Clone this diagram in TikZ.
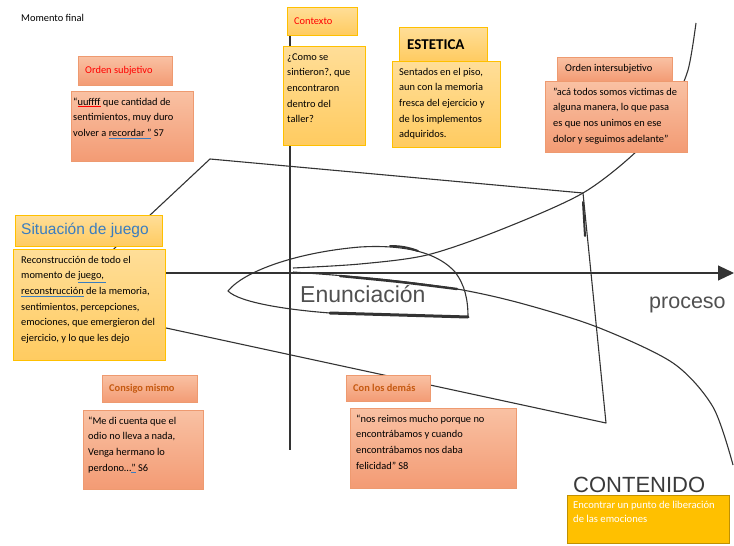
\documentclass[tikz,border=0pt]{standalone}
\usepackage{fontspec}
\setmainfont{Carlito}
\newfontfamily\arialfont{Liberation Sans}
\usetikzlibrary{arrows.meta}

% Colores
\definecolor{trazo}{HTML}{333333}
\definecolor{salmonclaro}{HTML}{F9C1A3}
\definecolor{salmonoscuro}{HTML}{F39B74}
\definecolor{bordesalmon}{HTML}{EE9A70}
\definecolor{amarilloclaro}{HTML}{FFDE98}
\definecolor{amarillooscuro}{HTML}{FFCB60}
\definecolor{bordeamarillo}{HTML}{FFC000}
\definecolor{dorado}{HTML}{FFC000}
\definecolor{bordedorado}{HTML}{C09000}
\definecolor{rojo}{HTML}{FF0000}
\definecolor{naranja}{HTML}{C55A11}
\definecolor{azul}{HTML}{3A7DC0}
\definecolor{gris}{HTML}{505050}
\definecolor{grisoscuro}{HTML}{3A3A3A}

% Texto de las cajas
\newcommand{\cuerpo}{\fontsize{10.4}{15.7}\selectfont}
\newcommand{\caja}[4]{\parbox[c][#2pt][t]{#1pt}{\vspace*{3pt}\hspace*{#3pt}\begin{tabular}[t]{@{}l@{}}#4\end{tabular}}}
\newcommand{\titulo}[3]{\makebox[#1pt][l]{\hspace*{#2pt}#3}}
\newcommand{\subrayar}[2]{\textcolor{#1}{\underline{\textcolor{black}{#2}}}}

\begin{document}
\begin{tikzpicture}[x=1pt, y=-1pt,
    linea/.style={draw=trazo, line width=1.1pt, line join=round},
    grueso/.style={draw=trazo, line width=2.6pt, line cap=round},
    salmon/.style={draw=bordesalmon, top color=salmonclaro, bottom color=salmonoscuro, anchor=north west, inner sep=0pt, font=\cuerpo},
    amarillo/.style={draw=bordeamarillo, top color=amarilloclaro, bottom color=amarillooscuro, anchor=north west, inner sep=0pt, font=\cuerpo},
    rotulo/.style={anchor=base west, inner sep=0pt, text=gris}]

    \useasboundingbox (0,0) rectangle (734,546);

    % Titulo de la hoja
    \node[anchor=base west, inner sep=0pt, font=\cuerpo] (momento) at (21,21) {Momento final};

    % Ejes
    \draw[linea] (290,8) -- (290,450);
    \draw[linea, -{Triangle[length=16pt, width=15pt]}] (120,273) -- (734,273);
    \draw[grueso, line width=2.4pt] (290,222) -- (290,274);

    % Cuadrilatero
    \draw[linea] (210,159) -- (583,193) -- (606,423) -- (55,304) -- cycle;
    \draw[grueso, line width=2pt] (583,202) -- (585,236);

    % Curva que sube
    \draw[linea] plot[smooth] coordinates {(293,268) (360,264) (427,255) (500,230) (583,193) (640,148) (672,105) (688,70) (696,23)};

    % Curva que baja
    \draw[linea] plot[smooth] coordinates {(293,272) (380,279) (457,289) (520,303) (597,327) (673,363) (713,407) (733,465)};
    \draw[grueso, line width=2.4pt] plot[smooth] coordinates {(340,276) (400,282) (457,289)};

    % Lazo de la enunciacion
    \draw[linea] (330,313) .. controls (290,310) and (240,303) .. (228,291)
        .. controls (245,270) and (300,252) .. (360,247)
        .. controls (410,244) and (440,255) .. (455,272)
        .. controls (465,285) and (468,300) .. (468,317);
    \draw[grueso, line width=3pt] (330,313) -- (468,317);
    \draw[grueso, line width=2pt] (390,246) .. controls (402,246) and (410,248) .. (418,251);

    % Textos del plano
    \node[rotulo, font=\arialfont\fontsize{23}{26}\selectfont] (enunciacion) at (300,302) {Enunciación};
    \node[rotulo, font=\arialfont\fontsize{21.5}{24}\selectfont] (proceso) at (649,308) {proceso};
    \node[rotulo, text=grisoscuro, font=\arialfont\fontsize{22}{26}\selectfont] (contenido) at (573,492) {CONTENIDO};

    % Orden subjetivo
    \node[salmon, minimum width=94pt, minimum height=29pt, text=rojo] (subjTitulo) at (78,56) {\titulo{94}{7}{Orden subjetivo}};
    \node[salmon] (subjCita) at (71,91) {\caja{122}{70}{2}{“\subrayar{rojo}{uuffff} que cantidad de\\ sentimientos, muy duro\\ volver a \subrayar{azul}{recordar ”} S7}};

    % Contexto
    \node[amarillo, minimum width=70pt, minimum height=28pt, text=rojo] (ctxTitulo) at (287,7) {\titulo{70}{7}{Contexto}};
    \node[amarillo] (ctxCuerpo) at (283,46) {\caja{82}{99}{4}{¿Como se\\ sintieron?, que\\ encontraron\\ dentro del\\ taller?}};

    % Estetica
    \node[amarillo, minimum width=88pt, minimum height=34pt, font=\fontsize{15}{18}\selectfont\bfseries] (estTitulo) at (399,27) {\titulo{88}{8}{ESTETICA}};
    \node[amarillo] (estCuerpo) at (392,61) {\caja{108}{86}{7}{Sentados en el piso,\\ aun con la memoria\\ fresca del ejercicio y\\ de los implementos\\ adquiridos.}};

    % Orden intersubjetivo
    \node[salmon, minimum width=115pt, minimum height=24pt] (interTitulo) at (557,57) {\titulo{115}{8}{Orden intersubjetivo}};
    \node[salmon] (interCuerpo) at (545,81) {\caja{142}{71}{8}{"acá todos somos victimas de\\ alguna manera, lo que pasa\\ es que nos unimos en ese\\ dolor y seguimos adelante"}};

    % Situacion de juego
    \node[amarillo, minimum width=147pt, minimum height=31pt, text=azul, font=\arialfont\fontsize{15.5}{18}\selectfont] (sitTitulo) at (15,215) {\titulo{147}{6}{Situación de juego}};
    \node[amarillo] (sitCuerpo) at (13,249) {\caja{152}{111}{8}{Reconstrucción de todo el\\ momento de \subrayar{azul}{juego, }\\ \subrayar{azul}{reconstrucción} de la memoria,\\ sentimientos, percepciones,\\ emociones, que emergieron del\\ ejercicio, y lo que les dejo}};

    % Consigo mismo
    \node[salmon, minimum width=95pt, minimum height=27pt, text=naranja, font=\cuerpo\bfseries] (consTitulo) at (102,375) {\titulo{95}{7}{Consigo mismo}};
    \node[salmon] (consCita) at (83,410) {\caja{120}{79}{5}{“Me di cuenta que el\\ odio no lleva a nada,\\ Venga hermano lo\\ perdono…\subrayar{azul}{ ”} S6}};

    % Con los demas
    \node[salmon, minimum width=84pt, minimum height=26pt, text=naranja, font=\cuerpo\bfseries] (demasTitulo) at (346,375) {\titulo{84}{7}{Con los demás}};
    \node[salmon] (demasCita) at (350,408) {\caja{166}{80}{6}{“nos reimos mucho porque no\\ encontrábamos y cuando\\ encontrábamos nos daba\\ felicidad” S8}};

    % Contenido
    \node[draw=bordedorado, fill=dorado, anchor=north west, inner sep=0pt, text=white, font=\fontsize{10.6}{14}\selectfont] (contCuerpo) at (567,495) {\caja{162}{48}{6}{Encontrar un punto de liberación\\ de las emociones}};

\end{tikzpicture}
\end{document}
